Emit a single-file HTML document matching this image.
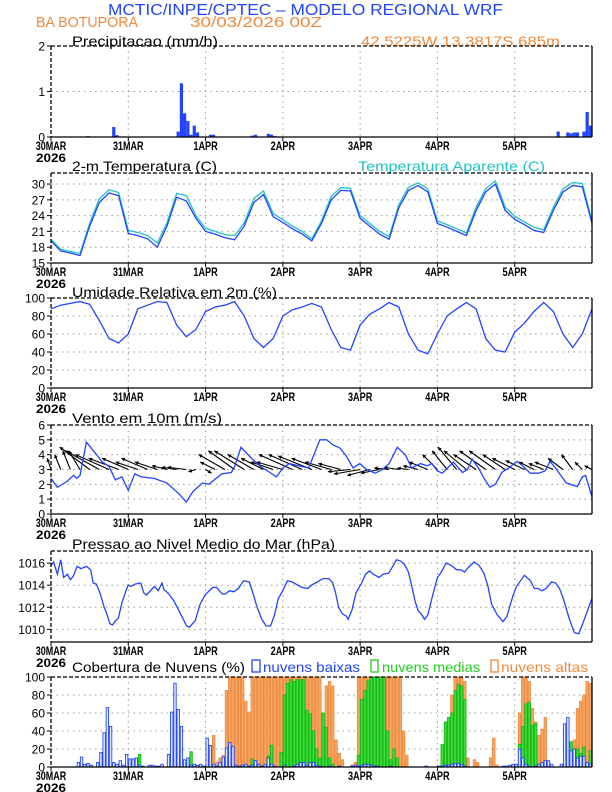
<!DOCTYPE html>
<html><head><meta charset="utf-8"><style>
body{margin:0;background:#fff;}
svg{display:block;font-family:"Liberation Sans",sans-serif;}
</style></head><body>
<svg id="chart" width="612" height="792" viewBox="0 0 612 792"></svg>
<script>
// ===== DATA =====
const dayLabels = ["30MAR","31MAR","1APR","2APR","3APR","4APR","5APR"];
const pcpHours = [11,12,19,20,21,39,40,41,42,43,44,45,49,50,62,63,67,68,69,157,160,161,162,163,165,166,167];
const pcpVals  = [0.02,0.01,0.22,0.04,0.01,0.12,1.18,0.52,0.35,0.05,0.25,0.1,0.05,0.05,0.03,0.05,0.07,0.05,0.02,0.12,0.1,0.08,0.1,0.1,0.12,0.55,0.25];
// 3-hourly series, h = 0..168
const temp2m = [19.2,17.3,16.9,16.4,22,26.5,28.3,27.8,20.6,20.2,19.6,18.0,22,27.5,26.8,23.5,21,20.5,19.8,19.4,22,26.5,28,23.8,22.7,21.5,20.5,19.2,22.5,27,28.8,28.7,23.5,22,20.5,19.5,25.5,28.8,29.7,28.5,22.5,21.8,21,20.2,25,28.5,30,25,23.3,22.3,21.2,20.8,25,28.5,29.7,29.5,22.5];
const tempApar = [19.5,17.6,17.2,16.8,22.5,27.2,28.9,28.4,21.2,20.8,20.2,18.8,22.6,28.2,27.8,24.0,21.6,21.0,20.4,20.2,22.6,27.3,28.7,24.4,23.2,22.0,21.0,19.6,23.0,27.7,29.3,29.2,24.0,22.5,21.0,20.0,26.1,29.4,30.2,29.1,23.0,22.3,21.5,20.7,25.6,29.1,30.6,25.6,23.9,22.8,21.8,21.3,25.6,29.1,30.3,30.1,23.0];
const rhum = [88,92,94,96,93,75,55,50,60,88,92,96,95,70,57,65,85,90,92,96,80,55,45,55,80,87,90,94,90,65,45,42,70,82,88,95,90,60,42,38,60,80,88,95,88,55,42,40,62,72,85,95,85,60,45,60,88];
const windSpdHours = [0,2,5,7,8,9,11,13,16,18,20,22,24,26,28,32,36,40,42,44,47,49,53,56,57,59,62,65,68,70,72,74,80,83.5,85.6,87.6,89.7,91.7,93.8,95.9,98,100.6,103,105,107.5,110,112,114.7,116.8,118.3,120,121.5,123.6,125,127.8,129.3,130.8,133,134.5,136.3,138,140,142.7,144.7,146.7,148.8,151.4,153.4,155,157,160,162,163.4,165,166,168];
const windSpd = [2.4,1.8,2.2,2.6,2.4,2.6,4.85,4.3,3.5,3.2,2.3,2.5,1.6,2.7,2.5,2.4,2.1,1.3,0.8,1.5,2.1,2.0,2.7,2.8,3.2,4.5,3.8,3.2,2.8,2.5,3.1,3.4,3.1,5.0,5.0,4.65,4.45,3.9,3.1,3.4,3.0,2.75,3.0,3.4,4.5,4.0,3.1,3.4,3.25,3.4,2.9,2.75,3.2,3.5,2.8,3.0,3.7,3.0,2.4,1.8,2.0,2.8,3.2,3.55,3.2,2.75,2.75,2.9,3.55,3.0,2.1,1.95,1.85,2.5,2.6,1.15];
const windU = [-0.5,-0.8,-1,-1.5,-4,-4.5,-4.5,-4,-3.5,-3,-3.5,-3,-2,-2,-2.5,-1,0.8,-2,-3.5,-3.5,-4,-3.5,-3,-3,-3.5,-4.5,-4.5,-4.5,-4,-3.5,-3,-3,-3.5,-3,-2.5,-2,-2,-1.5,-2,-2.5,-2,-2,-2.5,-3,-3,-3.5,-3.5,-3,-3,-2.5,-2,-2,-2.5,-2,-1.5,-1,-1];
const windV = [1.5,2,2.5,2.5,3,2.5,2,1.5,1.5,1,1.5,1,0.5,0.3,0.3,-0.3,-0.5,1,2,2.5,2.5,2,1.5,1,1,2,2,1.8,1.5,1,0.8,-0.3,-0.6,-0.8,-0.5,0.2,0.3,0.2,0.5,1,2,2.5,3,2.5,2,2.5,2.5,2,1.5,1.2,1,0.8,1,1.5,2,1,0.5];
const presHours = [0,0.8,2,3,3.9,5.1,6,6.9,8.1,9.3,11.1,12.3,13.1,14.1,15.3,16.5,17.1,18.3,19.1,20.1,20.9,22.1,23.9,24.9,26.1,27.9,28.8,29.7,30.9,32.1,33.3,34.5,35.1,36.3,38.1,40.6,42.1,43,44.8,46.2,47.8,50.2,51.4,53.2,54.2,55.4,56.8,58.2,59.8,61.6,62.8,64,65.5,66.8,68.2,69.4,70.6,71.8,73.4,74.8,77.9,79.7,80.9,82.1,84.5,86.3,87.5,88.3,89.3,90.5,91.7,92.3,93.5,94.7,96.3,97.7,98.9,100.1,101.9,103.1,104.9,106.1,107.3,108.5,109.7,111,112.2,113.1,114,115.2,116,117,118.2,120,121.2,122.7,124.2,126,127.2,128.4,129.6,131.4,132.9,134.4,135.6,136.8,138.6,140.4,141.6,143.4,144.6,147,148.9,150.1,151.3,152.5,153.7,155.5,156.7,157.9,159.1,160.9,162.5,163.9,165.1,168];
const presVals  = [1015.8,1016.1,1015,1016.3,1014.7,1015,1014.5,1014.8,1015.7,1015.5,1015.7,1015.4,1014.2,1014.1,1013.2,1012,1011.6,1010.5,1010.4,1010.8,1011,1012.5,1014,1013.9,1014.1,1014.2,1013.3,1013.1,1013.5,1013.9,1013.5,1014.2,1013.6,1013.3,1012.6,1011.2,1010.3,1010.2,1010.8,1012.2,1013.1,1013.8,1013.8,1013.2,1013.2,1013.5,1013.4,1013.7,1014.4,1014.3,1013.2,1012,1010.9,1010.3,1010.3,1011.3,1012.8,1013.4,1014.4,1014.3,1013.8,1013.7,1014,1014.2,1014.6,1014.6,1014.2,1013.4,1012,1011.4,1011.2,1010.9,1011.8,1013.3,1014.1,1015,1015.3,1015,1014.7,1015,1015.1,1015.7,1016.3,1016.2,1015.9,1015.2,1013.7,1012.5,1011.7,1011.3,1010.9,1011.3,1012.7,1014.7,1015.2,1016,1015.8,1015.4,1015.4,1015.2,1015.6,1016.1,1015.8,1015.1,1014,1012.3,1011.3,1010.7,1011.2,1013,1013.9,1014.9,1014.4,1013.7,1013.7,1013.5,1013.7,1014.3,1014.2,1013.7,1012.8,1011,1009.7,1009.6,1010.5,1012.8];
const cloudLow = [0,0,0,0,0,0,0,0,5,11,3,4, 2,0,5,16,38,66,45,5,3,7,2,14, 9,9,10,2,1,0,2,2,1,1,3,0, 14,61,93,64,45,8,10,2,3,2,3,1, 32,24,3,1,5,11,21,27,23,2,1,2, 3,1,2,7,3,1,3,10,3,1,0,0, 2,0,0,1,3,5,5,2,5,5,2,1, 0,0,1,0,0,1,0,0,0,1,2,1, 2,3,3,2,1,1,0,0,0,1,0,0, 0,0,0,0,0,0,0,0,1,0,0,0, 1,1,2,2,3,4,4,3,1,0,0,0, 0,0,0,0,0,0,0,0,1,1,2,3, 3,20,10,3,1,0,1,3,5,7,7,3, 0,0,3,48,55,18,20,10,12,12,5,3];
const cloudMid = [0,0,0,0,0,0,0,0,0,0,0,0, 0,0,0,0,0,3,2,3,0,5,0,0, 0,0,0,14,0,0,0,0,0,0,0,0, 0,0,17,17,8,5,0,17,3,0,2,0, 0,0,0,0,0,0,0,0,0,0,0,0, 0,0,9,0,0,0,0,12,24,0,0,16, 80,93,97,95,97,97,97,63,59,40,20,10, 60,44,10,3,0,0,0,0,0,0,0,13, 75,85,96,100,100,100,100,100,40,8,20,10, 0,0,0,0,0,0,0,0,0,0,0,0, 0,25,50,55,60,85,92,90,75,0,0,0, 0,0,0,0,0,0,0,0,0,0,0,0, 0,25,45,70,72,46,48,0,0,0,0,0, 0,0,0,0,0,28,20,20,15,22,5,18];
const cloudHigh = [0,0,0,0,0,0,0,0,0,0,0,0, 0,0,0,0,0,0,0,0,0,0,0,0, 0,0,0,0,0,0,0,0,0,0,0,0, 0,0,0,0,0,0,0,0,0,0,0,0, 0,13,35,5,10,13,85,100,100,100,100,100, 73,61,100,100,100,100,100,100,100,100,100,100, 100,100,100,100,100,100,100,100,100,100,100,100, 45,90,95,90,30,15,8,0,0,2,5,100, 100,100,100,100,100,100,100,100,100,100,100,100, 100,40,13,0,0,0,0,0,0,0,0,0, 0,12,30,48,80,100,100,100,95,10,0,8, 5,0,0,0,10,32,2,0,0,0,0,0, 2,60,100,100,95,65,50,35,42,55,5,0, 0,0,0,0,0,0,30,65,73,80,95,93];

// ===== LAYOUT =====
const NS="http://www.w3.org/2000/svg";
const svg=document.getElementById('chart');
const X0=51, X1=592, HOURS=168;
const xh = h => X0 + h*(X1-X0)/HOURS;
const BLUE="#2244ff", ORANGE="#f08a3c", CYAN="#20c4c4";
function el(tag, attrs, parent){const e=document.createElementNS(NS,tag);for(const k in attrs)e.setAttribute(k,attrs[k]);(parent||svg).appendChild(e);return e;}
function txt(s,x,y,size,fill,len,anchor,weight){const t=el('text',{x:x,y:y,'font-size':size,fill:fill||'#000'});if(len){t.setAttribute('textLength',len);t.setAttribute('lengthAdjust','spacingAndGlyphs');}if(anchor)t.setAttribute('text-anchor',anchor);if(weight)t.setAttribute('font-weight',weight);t.textContent=s;return t;}

function panel(name, top, bot, vmin, vmax, ticks, firstYear){
  const g=el('g',{});
  
  
  const ys = v => bot - (v-vmin)/(vmax-vmin)*(bot-top);
  ticks.forEach(v=>{
    const y=ys(v);
    if(y>top+1 && y<bot-1) el('line',{x1:X0,x2:X1,y1:y,y2:y,stroke:'#999','stroke-dasharray':'1.5,4','stroke-width':1},g);
    el('line',{x1:X0-4,x2:X0,y1:y,y2:y,stroke:'#000'},g);
    const t=txt(String(v),X0-6,y+4.5,12,'#000',null,'end');
    
    g.appendChild(t);
  });
  dayLabels.forEach((d,i)=>{
    const x=xh(i*24);
    if(i>0) el('line',{x1:x,x2:x,y1:top,y2:bot,stroke:'#999','stroke-dasharray':'1.5,4','stroke-width':1},g);
    el('line',{x1:x,x2:x,y1:bot,y2:bot+4,stroke:'#000'},g);
    const t=txt(d,x,bot+13,12,'#000',d.length*6.1,'middle','bold');
    
    g.appendChild(t);
  });
  if(firstYear){const t=txt('2026',X0,bot+25,12,'#000',30,'middle','bold');g.appendChild(t);}
  return {g,ys,top,bot};
}
function frame(p){
  el('line',{x1:X0,x2:X1,y1:p.top,y2:p.top,stroke:'#000','stroke-dasharray':'4,2','stroke-width':1.3});
  el('line',{x1:X0,x2:X0,y1:p.top,y2:p.bot,stroke:'#000','stroke-dasharray':'4,2','stroke-width':1.3});
  el('line',{x1:X0,x2:X1,y1:p.bot,y2:p.bot,stroke:'#000','stroke-width':1.3});
  el('line',{x1:X1,x2:X1,y1:p.top,y2:p.bot,stroke:'#000','stroke-width':1.3});
}
function line(p, hours, vals, color, name){
  const d=vals.map((v,i)=>(i?'L':'M')+xh(hours[i]).toFixed(1)+','+p.ys(v).toFixed(1)).join('');
  const path=el('path',{d:d,fill:'none',stroke:color,'stroke-width':1.3});
  
  
}
const h3 = temp2m.map((_,i)=>i*3);

// Header
let t;
t=txt('MCTIC/INPE/CPTEC \u2013 MODELO REGIONAL WRF',108,15,16,BLUE,395);
t=txt('BA BOTUPORA',36,27,15,ORANGE,102);
t=txt('30/03/2026 00Z',190,27,15,ORANGE,132);
t=txt('Precipitacao (mm/h)',72,46,14,'#000',146);
t=txt('42.5225W 13.3817S 685m',361,46,14,ORANGE,199);

// P1 precip
const p1=panel('precip-panel',46,137,0,2,[0,1,2],true);
pcpHours.forEach((h,i)=>{
  const r=el('rect',{x:xh(h),y:p1.ys(pcpVals[i]),width:3.2,height:p1.bot-p1.ys(pcpVals[i]),fill:BLUE});
  
  
});
frame(p1);

// P2 temperature
t=txt('2-m Temperatura (C)',72,171,14,'#000',145);
t=txt('Temperatura Aparente (C)',358,171,14,CYAN,187);
const p2=panel('temp-panel',173,263,15,32.1,[15,18,21,24,27,30],true);
line(p2,h3,tempApar,CYAN,'apparent-temp-line');
line(p2,h3,temp2m,BLUE,'temp-line');
frame(p2);

// P3 humidity
t=txt('Umidade Relativa em 2m (%)',72,297,14,'#000',205);
const p3=panel('humidity-panel',298,388,0,100,[0,20,40,60,80,100],true);
line(p3,h3,rhum,BLUE,'humidity-line');
frame(p3);

// P4 wind
t=txt('Vento em 10m (m/s)',72,423,14,'#000',150);
const p4=panel('wind-panel',425,514,0,6,[0,1,2,3,4,5,6],true);
const yb=p4.ys(3), K=7.5;
windU.forEach((u,i)=>{
  const x=xh(i*3), v=windV[i];
  const x2=x+u*K, y2=yb-v*K;
  const g=el('g',{});
  
  
  el('line',{x1:x,y1:yb,x2:x2,y2:y2,stroke:'#000','stroke-width':1.1},g);
  const a=Math.atan2(y2-yb,x2-x), L=4;
  const p=[x2,y2, x2-L*Math.cos(a-0.5),y2-L*Math.sin(a-0.5), x2-L*Math.cos(a+0.5),y2-L*Math.sin(a+0.5)];
  el('polygon',{points:p.map(n=>n.toFixed(1)).join(','),fill:'#000'},g);
});
line(p4,windSpdHours,windSpd,BLUE,'wind-speed-line');
frame(p4);

// P5 pressure
t=txt('Pressao ao Nivel Medio do Mar (hPa)',72,549,14,'#000',263);
const p5=panel('pressure-panel',551,642,1008.85,1017.1,[1010,1012,1014,1016],true);
line(p5,presHours,presVals,BLUE,'pressure-line');
frame(p5);

// P6 clouds
t=txt('Cobertura de Nuvens (%)',72,672,14,'#000',173);
el('rect',{x:252,y:660,width:8,height:12,fill:'none',stroke:BLUE,'stroke-width':1.3});
t=txt('nuvens baixas',263,672,14,BLUE,97);
el('rect',{x:371,y:660,width:7,height:12,fill:'none',stroke:'#22cc22','stroke-width':1.3});
t=txt('nuvens medias',382,672,14,'#22cc22',98);
el('rect',{x:491,y:660,width:7,height:12,fill:'none',stroke:ORANGE,'stroke-width':1.3});
t=txt('nuvens altas',501,672,14,ORANGE,87);
const p6=panel('cloud-panel',677,767,0,100,[0,20,40,60,80,100],true);
const bw=(X1-X0)/HOURS;
function bars(arr, fill, stroke, name){
  arr.forEach((v,h)=>{
    if(v<=0) return;
    const r=el('rect',{x:xh(h)+0.4,y:p6.ys(v),width:bw-0.8,height:p6.bot-p6.ys(v),fill:fill,stroke:stroke,'stroke-width':0.9});
    
    
  });
}
bars(cloudHigh,'#f6a868',ORANGE,'high-cloud-bar');
bars(cloudMid,'#44dd44','#11bb11','mid-cloud-bar');
bars(cloudLow,'#e6ecff',BLUE,'low-cloud-bar');
frame(p6);
</script>
</body></html>
